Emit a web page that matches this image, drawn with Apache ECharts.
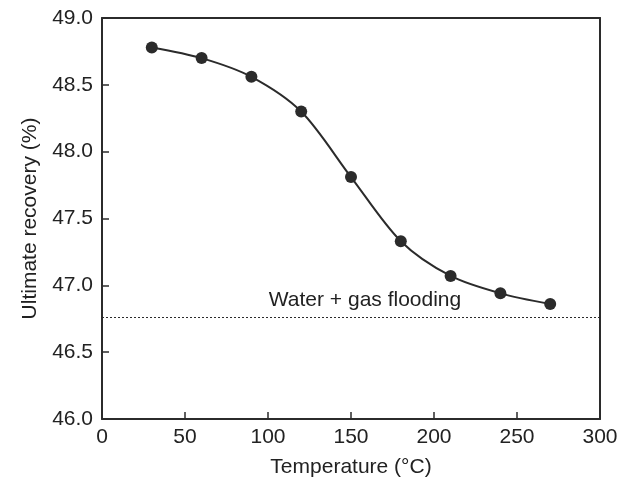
<!DOCTYPE html>
<html>
<head>
<meta charset="utf-8">
<script src="https://cdn.jsdelivr.net/npm/echarts@6/dist/echarts.min.js"></script>
<style>
  html, body { margin: 0; padding: 0; background: #fff; }
  #chart { width: 619px; height: 481px; }
</style>
</head>
<body>
<div id="chart"></div>
<script>
// Ultimate recovery versus temperature
const temperatures = [30, 60, 90, 120, 150, 180, 210, 240, 270];
const recovery = [48.78, 48.70, 48.56, 48.30, 47.81, 47.33, 47.07, 46.94, 46.86];
const baselineRecovery = 46.76;
const baselineLabel = 'Water + gas flooding';
const xTicks = [0, 50, 100, 150, 200, 250, 300];
const yTicks = [46.0, 46.5, 47.0, 47.5, 48.0, 48.5, 49.0];

const ink = '#2b2b2b';
const textInk = '#222';
const font = 'Liberation Sans, Arial, sans-serif';
const fontSize = 21;

const chart = echarts.init(document.getElementById('chart'), null, { renderer: 'canvas' });

const frameAxis = {
  axisLine: { show: true, onZero: false, lineStyle: { color: ink, width: 2 } },
  axisTick: { show: true, inside: true, length: 7, lineStyle: { color: ink, width: 1.5 } },
  splitLine: { show: false }
};

chart.setOption({
  animation: false,
  backgroundColor: '#fff',
  grid: { left: 102, right: 19, top: 18, bottom: 62, outerBoundsMode: 'none' },
  xAxis: [
    Object.assign({
      type: 'value', min: xTicks[0], max: xTicks[xTicks.length - 1], interval: 50,
      position: 'bottom',
      name: 'Temperature (°C)', nameLocation: 'middle', nameGap: 38,
      nameTextStyle: { fontFamily: font, fontSize: fontSize, color: textInk },
      axisLabel: { fontFamily: font, fontSize: fontSize, color: textInk, margin: 8 }
    }, frameAxis),
    Object.assign({
      type: 'value', min: xTicks[0], max: xTicks[xTicks.length - 1], interval: 50,
      position: 'top', axisLabel: { show: false }
    }, frameAxis, { axisTick: { show: false } })
  ],
  yAxis: [
    Object.assign({
      type: 'value', min: yTicks[0], max: yTicks[yTicks.length - 1], interval: 0.5,
      position: 'left',
      name: 'Ultimate recovery (%)', nameLocation: 'middle', nameGap: 61,
      nameTextStyle: { fontFamily: font, fontSize: fontSize, color: textInk },
      axisLabel: { fontFamily: font, fontSize: fontSize, color: textInk, margin: 9,
        formatter: v => v.toFixed(1) }
    }, frameAxis),
    Object.assign({
      type: 'value', min: yTicks[0], max: yTicks[yTicks.length - 1], interval: 0.5,
      position: 'right', axisLabel: { show: false }
    }, frameAxis, { axisTick: { show: false } })
  ],
  series: [
    {
      type: 'line',
      data: temperatures.map((t, i) => [t, recovery[i]]),
      smooth: 0.3,
      symbol: 'circle',
      symbolSize: 12,
      itemStyle: { color: ink },
      lineStyle: { color: ink, width: 2 },
      z: 3,
      markLine: {
        silent: true,
        symbol: ['none', 'none'],
        lineStyle: { color: ink, type: [2, 2], width: 1 },
        label: {
          show: true, position: 'insideMiddleTop', formatter: baselineLabel,
          fontFamily: font, fontSize: fontSize, color: textInk, offset: [14, -2]
        },
        data: [{ yAxis: baselineRecovery }]
      }
    }
  ]
});
</script>
</body>
</html>
